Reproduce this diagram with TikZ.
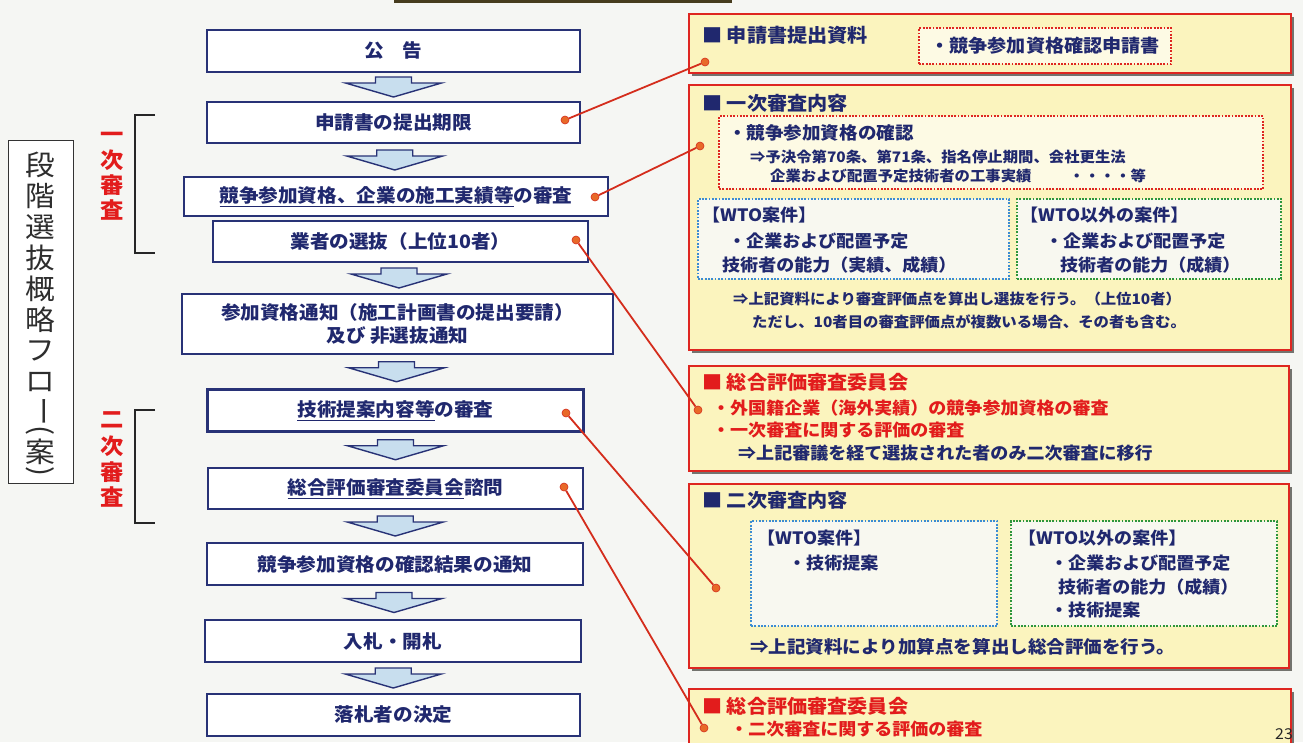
\documentclass[tikz,border=0pt]{standalone}
\usepackage{fontspec}
\setmainfont{Noto Sans CJK JP}[FakeStretch=1.06]
\usepackage{graphicx}
\usetikzlibrary{calc,shadows}
\definecolor{navy}{RGB}{32,40,110}
\definecolor{navyline}{RGB}{40,50,118}
\definecolor{arrowfill}{RGB}{200,222,238}
\definecolor{connred}{RGB}{212,45,28}
\definecolor{dotc}{RGB}{232,105,40}
\definecolor{boxfill}{RGB}{251,244,190}
\definecolor{boxred}{RGB}{222,38,32}
\definecolor{labred}{RGB}{226,28,28}
\definecolor{blued}{RGB}{60,140,210}
\definecolor{greend}{RGB}{45,150,60}
\definecolor{shadowc}{RGB}{115,115,110}
\definecolor{bgc}{RGB}{245,246,243}
\definecolor{innerfill}{RGB}{253,250,228}
\definecolor{innerwhite}{RGB}{248,248,240}
\definecolor{titlec}{RGB}{45,45,45}
\definecolor{topline}{RGB}{70,60,30}
\tikzset{
  flowbox/.style={draw=navyline, line width=2.2pt, fill=white, align=center, text=navy,
    font=\bfseries\fontsize{18.5}{23}\selectfont},
  blockarr/.style={draw=navyline, line width=1.4pt, fill=arrowfill, line join=miter},
  infobox/.style={draw=boxred, line width=1.8pt, fill=boxfill, anchor=north west,
    drop shadow={shadow xshift=3pt, shadow yshift=-3pt, fill=shadowc, opacity=1}},
  dotbox/.style={line width=2.2pt, dash pattern=on 1.8pt off 1.5pt, anchor=north west},
  reddotbox/.style={dotbox, draw=boxred, fill=innerfill},
  bluedotbox/.style={dotbox, draw=blued, fill=innerwhite},
  greendotbox/.style={dotbox, draw=greend, fill=innerwhite},
  hdr/.style={anchor=west, text=navy, font=\bfseries\fontsize{19}{21}\selectfont},
  hdrred/.style={hdr, text=labred},
  body/.style={anchor=west, text=navy, font=\bfseries\fontsize{17}{20}\selectfont},
  bodyred/.style={body, text=labred},
  small/.style={anchor=west, text=navy, font=\bfseries\fontsize{14.5}{18}\selectfont},
  conn/.style={draw=connred, line width=1.8pt},
  cdot/.style={circle, fill=dotc, draw=connred, line width=0.6pt, minimum size=8pt},
  vlabel/.style={text=labred, font=\bfseries\fontsize{22}{24}\selectfont},
  titlech/.style={text=titlec, font=\fontsize{28}{30}\selectfont},
  bracketline/.style={draw=black!85, line width=1.4pt},
}
\newcommand{\flowarrow}[2]{%
  \coordinate (m#1#2) at ($(#1.south)!0.5!(#2.north)$);
  \draw[blockarr] ([shift={(-18,-10)}]m#1#2) -- ([shift={(18,-10)}]m#1#2)
    -- ([shift={(18,-4)}]m#1#2) -- ([shift={(48,-4)}]m#1#2)
    -- ([shift={(0,10)}]m#1#2) -- ([shift={(-48,-4)}]m#1#2)
    -- ([shift={(-18,-4)}]m#1#2) -- cycle;}
\begin{document}
\begin{tikzpicture}[x=1pt,y=-1pt, every node/.style={inner sep=0pt}]
\useasboundingbox (0,0) rectangle (1303,742);
\clip (0,0) rectangle (1303,742);
\fill[bgc] (0,0) rectangle (1303,742);
\fill[topline] (394,0) rectangle (732,3);

% ---------- title box ----------
\node[draw=black!80, line width=1.3pt, fill=white, minimum width=65pt, minimum height=343pt, anchor=north west] (title) at (8,140) {};
\foreach \c/\y [count=\i] in {段/165, 階/196, 選/227, 抜/258, 概/289, 略/320, フ/351, ロ/382, 案/452}
  \node[titlech] (tt\i) at (40,\y) {\c};
\node[titlech] (ttbar) at (40,411) {\rotatebox[origin=c]{-90}{ー}};
\node[titlech] (ttpl) at (40,432) {\rotatebox[origin=c]{-90}{(}};
\node[titlech] (ttpr) at (40,473) {\rotatebox[origin=c]{-90}{)}};

% ---------- stage labels ----------
\foreach \c/\y [count=\i] in {一/137, 次/160, 審/185, 査/210}
  \node[vlabel] (va\i) at (112,\y) {\c};
\foreach \c/\y [count=\i] in {二/420, 次/446, 審/472, 査/497}
  \node[vlabel] (vb\i) at (112,\y) {\c};
\draw[bracketline] (155,115) -- (135,115) -- (135,253) -- (155,253);
\draw[bracketline] (155,410) -- (135,410) -- (135,523) -- (155,523);

% ---------- flow boxes ----------
\node[flowbox, minimum width=373pt, minimum height=42pt] (k1) at (393.5,51) {公\quad 告};
\node[flowbox, minimum width=373pt, minimum height=41pt] (k2) at (393.5,122.5) {申請書の提出期限};
\node[flowbox, minimum width=424pt, minimum height=39pt] (k3) at (396,196.5) {\underline{競争参加資格、企業の施工実績等}の審査};
\node[flowbox, minimum width=375pt, minimum height=41pt] (k4) at (400.5,241.5) {業者の選抜（上位10者）};
\node[flowbox, minimum width=431pt, minimum height=60pt] (k5) at (397.5,324) {参加資格通知（施工計画書の提出要請）\\及び 非選抜通知};
\node[flowbox, minimum width=376pt, minimum height=42pt] (k6) at (395.5,410.5) {\underline{技術提案内容等}の審査};
\node[flowbox, minimum width=375pt, minimum height=41pt] (k7) at (395.5,488.5) {\underline{総合評価審査委員会}諮問};
\node[flowbox, minimum width=376pt, minimum height=42pt] (k8) at (395,564) {競争参加資格の確認結果の通知};
\node[flowbox, minimum width=376pt, minimum height=42pt] (k9) at (393,641) {入札・開札};
\node[flowbox, minimum width=373pt, minimum height=42pt] (k10) at (393.5,715) {落札者の決定};

\flowarrow{k1}{k2}
\flowarrow{k2}{k3}
\flowarrow{k4}{k5}
\flowarrow{k5}{k6}
\flowarrow{k6}{k7}
\flowarrow{k7}{k8}
\flowarrow{k8}{k9}
\flowarrow{k9}{k10}

% ---------- right boxes ----------
\node[infobox, minimum width=602pt, minimum height=59pt] (A) at (688,13) {};
\node[reddotbox, minimum width=252pt, minimum height=36pt] (Ain) at (918,27) {};
\node[hdr] (Ah) at (702,35) {■ 申請書提出資料};
\node[text=navy, font=\bfseries\fontsize{18}{20}\selectfont] (At) at (Ain.center) {・競争参加資格確認申請書};

\node[infobox, minimum width=602pt, minimum height=265pt] (B) at (688,84) {};
\node[hdr] (Bh) at (702,103) {■ 一次審査内容};
\node[reddotbox, minimum width=544pt, minimum height=73pt] (Bred) at (718,115) {};
\node[body, font=\bfseries\fontsize{17.5}{20}\selectfont] (Br1) at (728,133) {・競争参加資格の確認};
\node[small] (Br2) at (750,157) {⇒予決令第70条、第71条、指名停止期間、会社更生法};
\node[small] (Br3) at (770,176) {企業および配置予定技術者の工事実績\hspace{2.6em}・・・・等};
\node[bluedotbox, minimum width=311pt, minimum height=80pt] (Bblue) at (697,198) {};
\node[greendotbox, minimum width=264pt, minimum height=80pt] (Bgreen) at (1016,198) {};
\node[body] (Bb1) at (702,215) {【WTO案件】};
\node[body] (Bb2) at (728,241) {・企業および配置予定};
\node[body] (Bb3) at (722,265) {技術者の能力（実績、成績）};
\node[body] (Bg1) at (1020,215) {【WTO以外の案件】};
\node[body] (Bg2) at (1045,241) {・企業および配置予定};
\node[body] (Bg3) at (1060,265) {技術者の能力（成績）};
\node[small] (Bt1) at (733,299) {⇒上記資料により審査評価点を算出し選抜を行う。（上位10者）};
\node[small] (Bt2) at (752,322) {ただし、10者目の審査評価点が複数いる場合、その者も含む。};

\node[infobox, minimum width=600pt, minimum height=105pt] (C) at (688,365) {};
\node[hdrred] (Ch) at (702,382) {■ 総合評価審査委員会};
\node[bodyred] (C1) at (712,408) {・外国籍企業（海外実績）の競争参加資格の審査};
\node[bodyred] (C2) at (712,430) {・一次審査に関する評価の審査};
\node[body] (C3) at (738,453) {⇒上記審議を経て選抜された者のみ二次審査に移行};

\node[infobox, minimum width=600pt, minimum height=184pt] (D) at (688,483) {};
\node[hdr] (Dh) at (702,500) {■ 二次審査内容};
\node[bluedotbox, minimum width=246pt, minimum height=105pt] (Dblue) at (750,520) {};
\node[greendotbox, minimum width=266pt, minimum height=105pt] (Dgreen) at (1010,520) {};
\node[body] (Db1) at (757,538) {【WTO案件】};
\node[body] (Db2) at (788,563) {・技術提案};
\node[body] (Dg1) at (1018,538) {【WTO以外の案件】};
\node[body] (Dg2) at (1050,563) {・企業および配置予定};
\node[body] (Dg3) at (1058,587) {技術者の能力（成績）};
\node[body] (Dg4) at (1050,610) {・技術提案};
\node[body, font=\bfseries\fontsize{17.5}{20}\selectfont] (Dt) at (750,647) {⇒上記資料により加算点を算出し総合評価を行う。};

\node[infobox, minimum width=602pt, minimum height=80pt] (E) at (688,688) {};
\node[hdrred] (Eh) at (702,706) {■ 総合評価審査委員会};
\node[bodyred] (E1) at (730,729) {・二次審査に関する評価の審査};

\node[text=black!85, font=\fontsize{15}{16}\selectfont, anchor=south] (pg) at (1284,740) {23};

% ---------- connectors ----------
\node[cdot] (d1a) at (565,120) {};
\node[cdot] (d1b) at (705,62) {};
\node[cdot] (d2a) at (595,197) {};
\node[cdot] (d2b) at (700,146) {};
\node[cdot] (d3a) at (576,240) {};
\node[cdot] (d3b) at (698,410) {};
\node[cdot] (d4a) at (566,413) {};
\node[cdot] (d4b) at (716,588) {};
\node[cdot] (d5a) at (564,487) {};
\node[cdot] (d5b) at (704,728) {};
\draw[conn] (d1a) -- (d1b);
\draw[conn] (d2a) -- (d2b);
\draw[conn] (d3a) -- (d3b);
\draw[conn] (d4a) -- (d4b);
\draw[conn] (d5a) -- (d5b);
\end{tikzpicture}
\end{document}
